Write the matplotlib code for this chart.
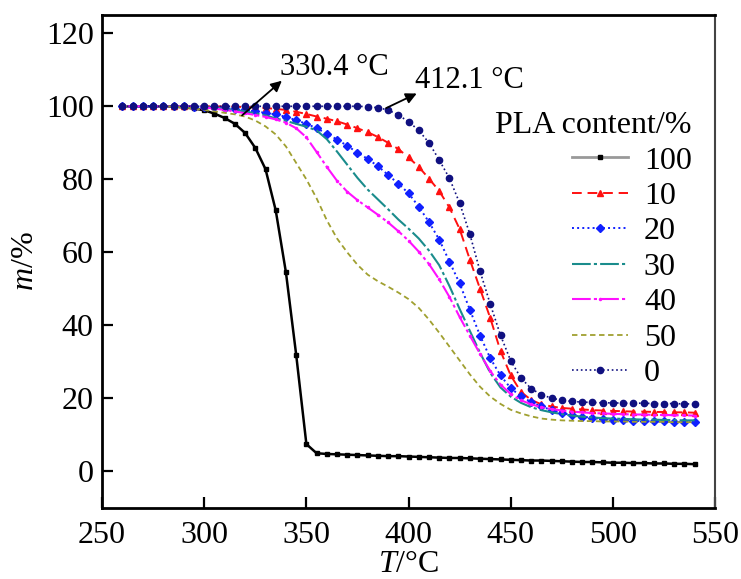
import matplotlib
matplotlib.use("Agg")
import matplotlib.pyplot as plt
import numpy as np
from matplotlib.lines import Line2D

plt.rcParams["font.family"] = ["Liberation Serif", "DejaVu Serif"]
plt.rcParams["mathtext.fontset"] = "custom"
plt.rcParams["mathtext.rm"] = "Liberation Serif"
plt.rcParams["mathtext.it"] = "Liberation Serif:italic"

# temperatura (°C), muestreo cada 5 grados
temp = np.arange(260, 545, 5)

# masa residual (%) para cada contenido de PLA
pla100 = [100, 100, 100, 100, 100,
          99.9, 99.7, 99.4, 98.9, 98.0, 96.8, 95.2, 92.7, 88.6, 82.8, 71.5, 54.5,
          32.0, 7.5, 5.0, 4.8, 4.7, 4.6, 4.5, 4.4, 4.3, 4.2, 4.2, 4.1,
          4.0, 3.9, 3.8, 3.7, 3.7, 3.6, 3.5, 3.4, 3.3, 3.2, 3.1, 3.0,
          3.0, 2.9, 2.8, 2.7, 2.6, 2.6, 2.5, 2.4, 2.4, 2.3, 2.3, 2.2,
          2.2, 2.1, 2.1, 2.0]
pla10 = [100, 100, 100, 100, 100,
         100, 100, 100, 100, 100, 99.9, 99.9, 99.8, 99.7, 99.5, 99.3, 99.0,
         98.5, 97.9, 97.2, 96.6, 95.9, 95.0, 94.0, 92.9, 91.6, 90.0, 88.3, 86.0,
         83.4, 80.2, 76.8, 72.3, 66.4, 58.0, 50.0, 42.0, 33.0, 26.3, 21.8, 19.6,
         18.4, 17.8, 17.4, 17.2, 17.0, 16.8, 16.7, 16.6, 16.5, 16.4, 16.4, 16.3,
         16.3, 16.2, 16.2, 16.1]
pla20 = [100, 100, 100, 100, 100,
         100, 100, 99.9, 99.9, 99.8, 99.6, 99.3, 99.0, 98.6, 98.2, 97.8, 97.1,
         96.2, 95.2, 94.0, 92.5, 90.9, 89.2, 87.3, 85.6, 83.6, 81.2, 78.8, 76.2,
         72.5, 68.3, 63.5, 57.5, 51.5, 44.3, 37.2, 31.0, 26.3, 22.8, 20.6, 19.0,
         17.8, 16.8, 16.0, 15.4, 15.0, 14.7, 14.4, 14.2, 14.0, 13.9, 13.8, 13.7,
         13.7, 13.6, 13.6, 13.5]
pla30 = [100, 100, 100, 100, 100,
         100, 100, 99.9, 99.8, 99.6, 99.3, 99.0, 98.6, 98.1, 97.5, 96.7, 96.0,
         95.2, 94.4, 93.4, 91.0, 87.6, 84.0, 80.4, 77.2, 74.5, 71.8, 69.0, 66.5,
         63.8, 60.5, 56.5, 50.8, 44.5, 38.5, 32.5, 27.0, 23.0, 20.5, 18.8, 17.6,
         16.8, 16.2, 15.7, 15.3, 15.0, 14.8, 14.6, 14.5, 14.4, 14.3, 14.2, 14.2,
         14.1, 14.1, 14.0, 14.0]
pla40 = [100, 100, 100, 100, 100,
         100, 100, 99.9, 99.7, 99.4, 99.0, 98.6, 98.1, 97.6, 97.1, 96.4, 95.5,
         94.0, 91.5, 87.5, 83.4, 79.6, 76.6, 74.3, 72.3, 70.3, 68.2, 65.8, 63.2,
         60.2, 56.8, 52.6, 47.8, 42.3, 37.2, 32.2, 27.5, 23.8, 21.2, 19.5, 18.4,
         17.6, 17.1, 16.7, 16.4, 16.2, 16.0, 15.9, 15.8, 15.7, 15.6, 15.6, 15.5,
         15.5, 15.4, 15.4, 15.3]
pla50 = [100, 100, 100, 100, 100,
         99.9, 99.7, 99.4, 99.0, 98.6, 98.2, 97.8, 97.2, 96.1, 94.5, 92.3, 89.0,
         84.5, 80.0, 74.8, 68.8, 63.8, 60.0, 56.6, 53.9, 52.1, 50.6, 49.0, 47.2,
         44.8, 41.6, 38.0, 34.2, 30.4, 26.6, 23.2, 20.5, 18.5, 16.9, 15.9, 15.1,
         14.5, 14.2, 14.0, 13.9, 13.8, 13.8, 13.7, 13.7, 13.7, 13.6, 13.6, 13.6,
         13.6, 13.5, 13.5, 13.5]
pla0 = [100, 100, 100, 100, 100,
        100, 100, 100, 100, 100, 100, 100, 100, 100, 100, 100, 100,
        100, 100, 100, 100, 100, 100, 100, 99.9, 99.6, 99.0, 97.6, 95.8,
        93.4, 90.0, 85.3, 80.3, 73.5, 65.0, 54.8, 45.8, 37.3, 30.3, 25.6, 22.7,
        21.0, 20.1, 19.5, 19.2, 19.0, 18.9, 18.8, 18.8, 18.7, 18.7, 18.7, 18.6,
        18.6, 18.6, 18.5, 18.5]

etiquetas = ["100", "10", "20", "30", "40", "50", "0"]
series = [pla100, pla10, pla20, pla30, pla40, pla50, pla0]

# temperaturas de inicio de degradacion marcadas con flecha
onset_txt = ["330.4 °C", "412.1 °C"]
onset_cola = [(318.5, 97.5), (389.0, 99.5)]
onset_punta = [(338.0, 107.0), (404.0, 103.5)]

estilos = [
    dict(color="black", ls="-", lw=1.8, marker="s", ms=3),
    dict(color="#ff1010", ls=(0, (5, 3)), lw=1.4, marker="^", ms=4.5),
    dict(color="#1020ff", ls=":", lw=1.4, marker="D", ms=4.5),
    dict(color="#1a8c8c", ls=(0, (9, 1.5, 1.5, 1.5)), lw=1.5, marker=None),
    dict(color="#ff10ff", ls=(0, (9, 1.5, 1.5, 1.5)), lw=1.5, marker=".", ms=3),
    dict(color="#a0a030", ls=(0, (3, 2)), lw=1.3, marker=None),
    dict(color="#101080", ls=":", lw=1.2, marker="o", ms=4.5),
]

fs = 23

fig = plt.figure(figsize=(7.41, 5.79), dpi=100)
ax = fig.add_axes([0.1377, 0.1226, 0.8273, 0.8515])

orden = [5, 4, 3, 2, 1, 6, 0]
for i in orden:
    ax.plot(temp, series[i], zorder=2 + i, **estilos[i])

for txt, cola, punta in zip(onset_txt, onset_cola, onset_punta):
    ax.annotate("", xy=punta, xytext=cola,
                arrowprops=dict(arrowstyle="-|>", color="black", lw=1.3,
                                mutation_scale=16, shrinkA=0, shrinkB=0),
                zorder=20)
    ax.text(punta[0] - 1, punta[1] + 3.5, txt, fontsize=fs - 1, ha="left",
            va="center", zorder=20)

ax.set_xlim(250, 550)
ax.set_ylim(-10, 125)
ax.set_xticks([250, 300, 350, 400, 450, 500, 550])
ax.set_yticks([0, 20, 40, 60, 80, 100, 120])
ax.tick_params(direction="in", length=8, width=1.6, labelsize=fs,
               top=False, right=False)
ax.tick_params(axis="x", pad=9)
ax.tick_params(axis="y", pad=6)
for lado in ["left", "bottom", "top"]:
    ax.spines[lado].set_linewidth(2.0)
ax.spines["right"].set_linewidth(1.5)
ax.spines["right"].set_color("#444444")

ax.set_xlabel("$T$/°C", fontsize=fs, labelpad=0)
ax.set_ylabel("$m$/%", fontsize=fs, labelpad=4)

# leyenda con linea gris para la serie 100
manijas = []
for i, est in enumerate(estilos):
    e = dict(est)
    if i == 0:
        e["color"] = "#999999"
        e["lw"] = 2.0
        manijas.append(Line2D([], [], markerfacecolor="black", markeredgecolor="black", **e))
    else:
        manijas.append(Line2D([], [], **e))

leg = ax.legend(manijas, etiquetas, title="PLA content/%", fontsize=fs,
                title_fontsize=fs, frameon=False, loc="upper right",
                bbox_to_anchor=(0.962, 0.805), handlelength=1.75, handletextpad=0.5,
                labelspacing=0.19, alignment="right", borderaxespad=0,
                borderpad=0)

fig.savefig("out.png", dpi=100)
